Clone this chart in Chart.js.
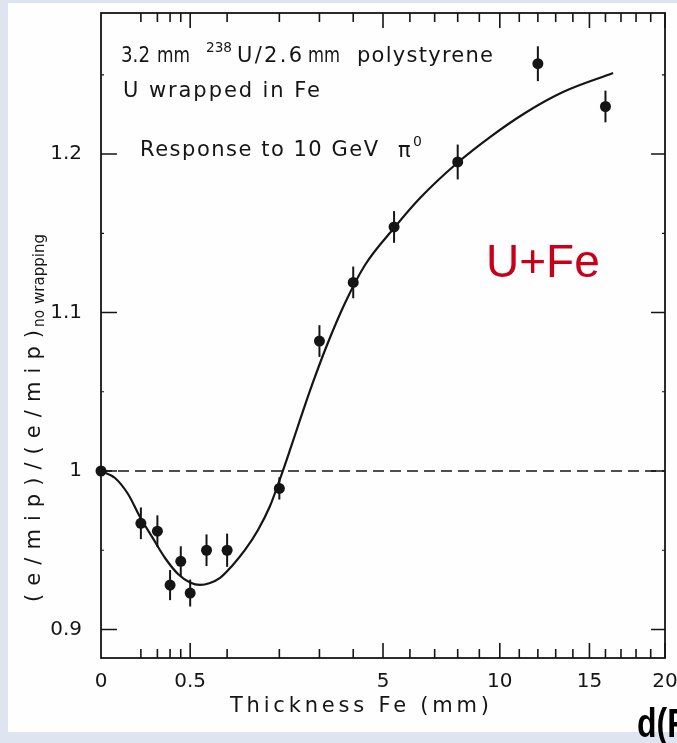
<!DOCTYPE html>
<html>
<head>
<meta charset="utf-8">
<script src="https://cdn.jsdelivr.net/npm/chart.js@4.4.1/dist/chart.umd.min.js"></script>
<style>
  html, body { margin: 0; padding: 0; background: #dfe5f0; }
  canvas { display: block; }
</style>
</head>
<body>
<canvas id="chart" width="677" height="743"></canvas>
<script>
// Measured response of the wrapped stack, relative to the unwrapped one
const thickness   = [0, 0.1, 0.2, 0.3, 0.4, 0.5, 0.7, 1, 2, 3, 4, 5.4, 8, 12, 16];
const response    = [1.0, 0.967, 0.962, 0.928, 0.943, 0.923, 0.950, 0.950, 0.989, 1.082, 1.119, 1.154, 1.195, 1.257, 1.230];
const responseErr = [0, 0.010, 0.010, 0.0095, 0.0095, 0.0085, 0.010, 0.0105, 0.007, 0.010, 0.010, 0.010, 0.011, 0.011, 0.010];

// Calculated curve
const curveThickness = [0, 0.0123, 0.0459, 0.0957, 0.164, 0.258, 0.373, 0.498, 0.616, 0.747, 0.891, 1.079, 1.304, 1.550, 1.796, 2.015, 2.246, 2.490, 2.800, 3.212, 3.744, 4.383, 5.399, 6.400, 7.925, 9.516, 11.31, 13.42, 16.49];
const curveResponse  = [1.0, 0.9956, 0.9855, 0.9710, 0.9584, 0.9451, 0.9350, 0.9297, 0.9281, 0.9293, 0.9325, 0.9401, 0.9502, 0.9628, 0.9779, 0.9950, 1.0133, 1.0322, 1.0543, 1.0795, 1.1060, 1.1300, 1.1533, 1.1722, 1.1937, 1.2107, 1.2259, 1.2391, 1.2511];

// Dashed reference level (no wrapping)
const refThickness = [0, 20];
const refResponse  = [1, 1];

// Axis ticks
const xTickValues = [0, 0.1, 0.2, 0.3, 0.4, 0.5, 1, 2, 3, 4, 5, 6, 7, 8, 9, 10, 11, 12, 13, 14, 15, 16, 17, 18, 19, 20];
const xTickLabels = [0, 0.5, 5, 10, 15, 20];
const xMajorTicks = [0.5, 5, 10, 15, 20];
const yTickValues = [0.9, 1, 1.1, 1.2];
const yMinorTicks = [0.95, 1.05, 1.15, 1.25];

// square-root axis for the iron thickness
class SqrtScale extends Chart.LinearScale {
  static id = 'sqrt';
  buildTicks() {
    this.start = this.min;
    this.end = this.max;
    return xTickValues.filter(v => v >= this.min && v <= this.max).map(v => ({ value: v }));
  }
  getPixelForValue(value) {
    const lo = Math.sqrt(this.min), hi = Math.sqrt(this.max);
    return this.getPixelForDecimal((Math.sqrt(Math.max(value, 0)) - lo) / (hi - lo));
  }
  getValueForPixel(pixel) {
    const lo = Math.sqrt(this.min), hi = Math.sqrt(this.max);
    const r = lo + this.getDecimalForPixel(pixel) * (hi - lo);
    return r * r;
  }
}
Chart.register(SqrtScale);

const INK = '#151515';
const FONT = '"DejaVu Sans", sans-serif';

// draws text stretched (letter spacing) or squeezed to a given width
function spanText(ctx, text, x, y, width) {
  ctx.letterSpacing = '0px';
  const natural = ctx.measureText(text).width;
  if (natural < width && text.length > 1) {
    ctx.letterSpacing = ((width - natural) / (text.length - 1)) + 'px';
    ctx.fillText(text, x, y);
  } else {
    ctx.fillText(text, x, y, width);
  }
  ctx.letterSpacing = '0px';
}

const decorations = {
  id: 'decorations',
  beforeDraw(chart) {
    const ctx = chart.ctx;
    ctx.save();
    ctx.fillStyle = '#fefefe';
    ctx.fillRect(8, 3, 669, 729);
    ctx.restore();
  },
  afterDatasetsDraw(chart) {
    const { ctx, chartArea: a, scales: { x, y } } = chart;
    ctx.save();
    ctx.strokeStyle = INK;

    // error bars
    ctx.lineWidth = 2;
    thickness.forEach((t, i) => {
      if (!responseErr[i]) return;
      const px = x.getPixelForValue(t);
      ctx.beginPath();
      ctx.moveTo(px, y.getPixelForValue(response[i] - responseErr[i]));
      ctx.lineTo(px, y.getPixelForValue(response[i] + responseErr[i]));
      ctx.stroke();
    });

    // frame
    ctx.lineWidth = 1.8;
    ctx.strokeRect(a.left, a.top, a.right - a.left, a.bottom - a.top);

    // inward ticks, bottom and top
    ctx.lineWidth = 1.6;
    xTickValues.forEach(v => {
      if (v === 0) return;
      const px = x.getPixelForValue(v);
      const len = xMajorTicks.includes(v) ? 15 : 9;
      ctx.beginPath();
      ctx.moveTo(px, a.bottom); ctx.lineTo(px, a.bottom - len);
      ctx.moveTo(px, a.top); ctx.lineTo(px, a.top + len);
      ctx.stroke();
    });
    // inward ticks, left and right
    yTickValues.forEach(v => {
      const py = y.getPixelForValue(v);
      ctx.beginPath();
      ctx.moveTo(a.left, py); ctx.lineTo(a.left + 16, py);
      ctx.moveTo(a.right, py); ctx.lineTo(a.right - 14, py);
      ctx.stroke();
    });
    ctx.lineWidth = 1.2;
    yMinorTicks.forEach(v => {
      const py = y.getPixelForValue(v);
      ctx.beginPath();
      ctx.moveTo(a.left, py); ctx.lineTo(a.left + 3, py);
      ctx.moveTo(a.right, py); ctx.lineTo(a.right - 3, py);
      ctx.stroke();
    });
    ctx.restore();
  },
  afterDraw(chart) {
    const ctx = chart.ctx;
    ctx.save();
    ctx.fillStyle = INK;
    ctx.textBaseline = 'alphabetic';
    ctx.textAlign = 'left';

    // sample description
    ctx.font = '21px ' + FONT;
    spanText(ctx, '3.2', 121, 62, 29);
    spanText(ctx, 'mm', 157, 62, 33);
    spanText(ctx, 'U/2.6', 237, 62, 65);
    spanText(ctx, 'mm', 308, 62, 32);
    spanText(ctx, 'polystyrene', 357, 62, 136);
    ctx.font = '14px ' + FONT;
    spanText(ctx, '238', 206, 52, 26);
    ctx.font = '21px ' + FONT;
    spanText(ctx, 'U wrapped in Fe', 123, 97, 197);
    spanText(ctx, 'Response to 10 GeV', 140, 156, 238);
    spanText(ctx, 'π', 398, 157, 15);
    ctx.font = '14px ' + FONT;
    ctx.fillText('0', 413, 146);

    // axis titles
    ctx.font = '21px ' + FONT;
    spanText(ctx, 'Thickness Fe (mm)', 230, 712, 259);

    ctx.save();
    ctx.translate(40, 602);
    ctx.rotate(-Math.PI / 2);
    ctx.font = '21px ' + FONT;
    spanText(ctx, '(e/mip)/(e/mip)', 0, 0, 272);
    ctx.font = '15px ' + FONT;
    spanText(ctx, 'no', 275, 4, 17);
    spanText(ctx, 'wrapping', 298, 4, 70);
    ctx.restore();

    // overlay labels
    ctx.fillStyle = '#c8001a';
    ctx.font = '46px "Liberation Sans", Arial, sans-serif';
    ctx.fillText('U+Fe', 486, 277);

    ctx.fillStyle = '#000';
    ctx.font = 'bold 40px "Liberation Sans", Arial, sans-serif';
    ctx.save();
    ctx.translate(637, 737);
    ctx.scale(0.8, 1);
    ctx.fillText('d(Fe)', 0, 0);
    ctx.restore();

    ctx.restore();
  }
};

const xy = (xs, ys) => xs.map((v, i) => ({ x: v, y: ys[i] }));

new Chart(document.getElementById('chart'), {
  type: 'scatter',
  data: {
    datasets: [
      {
        label: 'calculation',
        data: xy(curveThickness, curveResponse),
        showLine: true,
        borderColor: INK,
        borderWidth: 2.2,
        pointRadius: 0,
        cubicInterpolationMode: 'monotone'
      },
      {
        label: 'no wrapping',
        data: xy(refThickness, refResponse),
        showLine: true,
        borderColor: INK,
        borderWidth: 1.6,
        borderDash: [11, 6],
        pointRadius: 0
      },
      {
        label: 'measured',
        data: xy(thickness, response),
        pointRadius: 5.5,
        pointBackgroundColor: INK,
        pointBorderWidth: 0,
        clip: false
      }
    ]
  },
  options: {
    responsive: false,
    animation: false,
    layout: { padding: { left: 0, right: 12, top: 13, bottom: 0 } },
    plugins: { legend: { display: false }, tooltip: { enabled: false } },
    scales: {
      x: {
        type: 'sqrt',
        min: 0,
        max: 20,
        grid: { display: false, drawTicks: false },
        border: { display: false },
        ticks: {
          autoSkip: false,
          maxRotation: 0,
          padding: 12,
          color: INK,
          font: { family: FONT, size: 20 },
          callback: v => xTickLabels.includes(v) ? String(v) : ''
        },
        afterFit: s => { s.height = 85; s.paddingLeft = 0; s.paddingRight = 0; }
      },
      y: {
        min: 0.882,
        max: 1.289,
        grid: { display: false, drawTicks: false },
        border: { display: false },
        afterBuildTicks: s => { s.ticks = yTickValues.map(v => ({ value: v })); },
        ticks: {
          padding: 19,
          color: INK,
          font: { family: FONT, size: 20 },
          callback: v => String(v)
        },
        afterFit: s => { s.width = 101; s.paddingTop = 0; s.paddingBottom = 0; }
      }
    }
  },
  plugins: [decorations]
});
</script>
</body>
</html>
